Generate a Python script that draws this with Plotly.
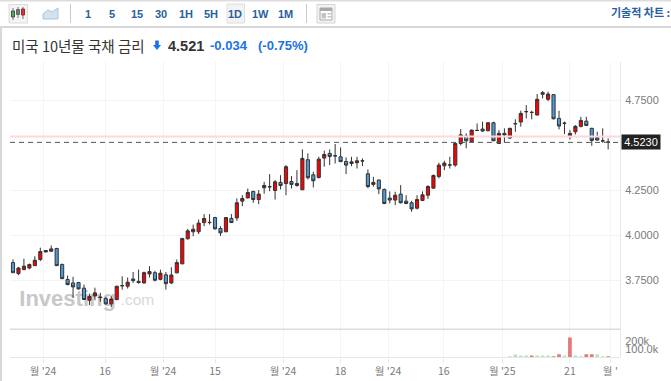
import plotly.graph_objects as go

W, H = 671, 381

opens = [3.848,3.787,3.809,3.818,3.831,3.865,3.915,3.911,3.926,3.837,
3.754,3.735,3.737,3.706,3.639,3.663,3.657,3.648,3.619,3.643,
3.719,3.717,3.757,3.744,3.735,3.785,3.792,3.755,3.780,3.735,
3.791,3.841,3.980,4.019,4.019,4.070,4.070,4.098,4.037,4.019,
4.093,4.096,4.189,4.207,4.243,4.198,4.263,4.268,4.248,4.293,
4.287,4.298,4.287,4.252,4.419,4.335,4.320,4.428,4.454,4.441,
4.435,4.409,4.398,4.402,4.413,4.341,4.282,4.306,4.254,4.206,
4.195,4.228,4.189,4.180,4.150,4.193,4.222,4.261,4.326,4.385,
4.389,4.389,4.509,4.550,4.519,4.582,4.589,4.580,4.624,4.509,
4.565,4.539,4.618,4.628,4.685,4.682,4.667,4.791,4.754,4.780,
4.648,4.622,4.550,4.574,4.604,4.633,4.593,4.541,4.524,4.517]
highs = [3.865,3.824,3.869,3.843,3.883,3.931,3.917,3.943,3.930,3.843,
3.776,3.769,3.741,3.726,3.676,3.709,3.680,3.657,3.661,3.717,
3.772,3.765,3.796,3.809,3.798,3.828,3.802,3.809,3.796,3.822,
3.865,3.985,4.035,4.059,4.087,4.117,4.117,4.102,4.050,4.098,
4.117,4.204,4.222,4.259,4.246,4.250,4.296,4.339,4.306,4.333,
4.389,4.328,4.361,4.476,4.454,4.352,4.435,4.469,4.476,4.506,
4.487,4.432,4.435,4.435,4.426,4.365,4.324,4.309,4.259,4.243,
4.241,4.278,4.222,4.191,4.222,4.243,4.278,4.337,4.402,4.413,
4.435,4.513,4.589,4.565,4.587,4.620,4.630,4.626,4.630,4.583,
4.593,4.596,4.643,4.691,4.722,4.691,4.783,4.800,4.796,4.783,
4.691,4.630,4.583,4.611,4.657,4.657,4.596,4.574,4.593,4.537]
lows = [3.792,3.778,3.806,3.811,3.830,3.856,3.906,3.907,3.830,3.756,
3.722,3.652,3.698,3.641,3.613,3.639,3.631,3.615,3.602,3.639,
3.698,3.704,3.735,3.731,3.731,3.765,3.744,3.750,3.698,3.729,
3.789,3.839,3.976,3.994,4.006,4.050,4.059,4.032,3.996,4.017,
4.068,4.080,4.161,4.204,4.180,4.172,4.230,4.244,4.198,4.254,
4.222,4.259,4.269,4.252,4.309,4.265,4.315,4.380,4.389,4.398,
4.407,4.339,4.383,4.370,4.383,4.261,4.269,4.228,4.172,4.176,
4.167,4.176,4.172,4.130,4.143,4.189,4.202,4.259,4.315,4.361,
4.370,4.380,4.498,4.482,4.517,4.578,4.574,4.576,4.522,4.506,
4.513,4.535,4.574,4.602,4.648,4.643,4.665,4.759,4.744,4.643,
4.587,4.561,4.531,4.559,4.598,4.606,4.496,4.524,4.513,4.476]
closes = [3.792,3.818,3.828,3.837,3.861,3.909,3.907,3.924,3.831,3.759,
3.726,3.713,3.702,3.643,3.661,3.680,3.654,3.619,3.646,3.717,
3.720,3.739,3.748,3.737,3.792,3.798,3.750,3.789,3.731,3.779,
3.848,3.982,4.024,4.033,4.067,4.093,4.071,4.035,4.013,4.098,
4.070,4.180,4.204,4.237,4.198,4.228,4.276,4.269,4.296,4.276,
4.380,4.282,4.276,4.426,4.319,4.302,4.422,4.448,4.437,4.440,
4.408,4.389,4.407,4.413,4.412,4.270,4.293,4.257,4.176,4.195,
4.222,4.180,4.176,4.146,4.198,4.224,4.270,4.331,4.389,4.400,
4.390,4.509,4.557,4.524,4.583,4.581,4.578,4.624,4.524,4.565,
4.556,4.593,4.619,4.676,4.686,4.681,4.754,4.782,4.783,4.646,
4.606,4.621,4.565,4.604,4.637,4.609,4.526,4.528,4.523,4.516]

volume_start = 91
volumes = [15000,36000,25000,25000,25000,25000,25000,25000,15000,40000,
           25000,240000,25000,15000,38000,38000,38000,12000,12000]
volume_up = [0,0,0,0,1,0,0,0,1,1,0,1,0,0,1,1,0,0,1]

x_ticks = [5.5,16.85,27.5,37,49.45,60,68.7,78.9,89.6,102,109.4]
x_labels = ["월 '24","16","월 '24","15","월 '24","18","월 '24","16","월 '25","21","월 '"]
price_ticks = [3.75,4.0,4.25,4.75]
price_labels = ["3.7500","4.0000","4.2500","4.7500"]
vol_ticks = [100000,200000]
vol_labels = ["100.0k","200k"]
last_level = 4.515
last_label = "4.5230"
pink_level = 4.548
intervals = ["1","5","15","30","1H","5H","1D","1W","1M"]

LATIN = "Liberation Sans, Arial, sans-serif"
KR = "Noto Sans CJK KR, Liberation Sans, sans-serif"
BLUE = "#2a5f9e"

def px(x): return x / W
def py(y): return 1 - y / H

idx = list(range(len(opens)))
xr = [-0.55, 111.17]
yr = [3.4778, 4.9611]

fig = go.Figure()

# Watermark sits under the candles
fig.add_trace(go.Scatter(x=[10], y=[3.636], mode="text", text=["<b>Investing</b>"],
    textposition="middle center", textfont=dict(size=22, color="#c8c8c8", family=LATIN),
    hoverinfo="skip", showlegend=False, xaxis="x", yaxis="y"))
fig.add_trace(go.Scatter(x=[22.8], y=[3.632], mode="text", text=[".com"],
    textposition="middle center", textfont=dict(size=15.5, color="#d8d8d8", family=LATIN),
    hoverinfo="skip", showlegend=False, xaxis="x", yaxis="y"))

fig.add_trace(go.Candlestick(x=idx, open=opens, high=highs, low=lows, close=closes,
    xaxis="x", yaxis="y3", whiskerwidth=0, showlegend=False,
    increasing=dict(fillcolor="#ff0000", line=dict(color="#333333", width=1)),
    decreasing=dict(fillcolor="#4f9ad6", line=dict(color="#333333", width=1))))

fig.add_trace(go.Bar(x=[volume_start + i for i in range(len(volumes))], y=volumes,
    marker=dict(color=["#e57878" if u else "#b8e2c4" for u in volume_up], line_width=0),
    width=0.68, xaxis="x2", yaxis="y2", showlegend=False, hoverinfo="skip"))

shapes = []
def rect(x0, y0, x1, y1, fill=None, line=None, lw=1):
    shapes.append(dict(type="rect", xref="paper", yref="paper", x0=px(x0), x1=px(x1),
        y0=py(y1), y1=py(y0), fillcolor=fill or "rgba(0,0,0,0)",
        line=dict(color=line or "rgba(0,0,0,0)", width=lw if line else 0), layer="above"))
def seg(x0, y0, x1, y1, color, lw=1):
    shapes.append(dict(type="line", xref="paper", yref="paper", x0=px(x0), x1=px(x1),
        y0=py(y0), y1=py(y1), line=dict(color=color, width=lw), layer="above"))

# chrome
seg(0, 0.5, W, 0.5, "#dddddd", 2)
seg(0, 27, W, 27, "#b0b0b0", 1)
seg(1, 28, 1, H, "#d8d8d8", 2)
seg(70.5, 4, 70.5, 23, "#c8c8c8", 1)
seg(306.5, 4, 306.5, 23, "#c8c8c8", 1)
rect(227, 4, 244.5, 23, "#f3f3f3", "#dedede")
# candle icon
rect(9, 4.5, 27.5, 23, "#f3f3f3", "#dcdcdc")
seg(13, 8, 13, 20, "#777777", 1)
rect(11.5, 11, 14.5, 17, "#45b649", "#4a4a4a")
seg(18, 7, 18, 18, "#777777", 1)
rect(16.5, 9.5, 19.5, 14.5, "#777777", "#666666")
seg(23, 7, 23, 19, "#777777", 1)
rect(21.5, 9, 24.5, 15, "#e03030", "#8a3030")
# area icon
shapes.append(dict(type="path", xref="paper", yref="paper",
    path="M {} {} L {} {} L {} {} L {} {} L {} {} L {} {} Z".format(
        px(43), py(19), px(43), py(14), px(48), py(10), px(52), py(12), px(58), py(8), px(58), py(19)),
    fillcolor="#d3e2ef", line=dict(color="#a8c4dc", width=1), layer="above"))
# layout icon
rect(317, 4.5, 335, 23, "#f3f3f3", "#d5d5d5")
rect(320, 8, 332, 20, "#ffffff", "#a8a8a8")
rect(320, 8, 332, 11, "#a8a8a8")
rect(321.5, 13, 326, 18.5, "#c4c4c4")
rect(327.5, 13, 331, 14.5, "#c4c4c4")
rect(327.5, 16, 331, 17.5, "#c4c4c4")
# down arrow next to the price
shapes.append(dict(type="path", xref="paper", yref="paper",
    path="M {} {} L {} {} L {} {} L {} {} L {} {} L {} {} L {} {} Z".format(
        px(155.2), py(40.5), px(158.8), py(40.5), px(158.8), py(45), px(161), py(45),
        px(157), py(50), px(153), py(45), px(155.2), py(45)),
    fillcolor="#1a73e8", line=dict(width=0), layer="above"))

# panes
seg(10, 329.3, 620, 329.3, "#dcdcdc", 1.5)
seg(10, 357.5, 620, 357.5, "#e6e6e6", 1)
seg(620.5, 62, 620.5, 357.5, "#e6e6e6", 1)

# level lines, from the price scale
shapes.append(dict(type="line", xref="paper", yref="y", x0=px(10), x1=px(620),
    y0=pink_level, y1=pink_level, line=dict(color="#ffd8d8", width=2), layer="above"))
shapes.append(dict(type="line", xref="paper", yref="y", x0=px(10), x1=px(620),
    y0=last_level, y1=last_level, line=dict(color="#555555", width=1, dash="5px,4px"), layer="above"))

annotations = []
def text(x, y, s, size, color, anchor="left", family=LATIN, **kw):
    annotations.append(dict(xref="paper", yref="paper", x=px(x), y=py(y), text=s, showarrow=False,
        xanchor=anchor, yanchor="middle", font=dict(size=size, color=color, family=family), **kw))

for label, x in zip(intervals, [87.5,112,137,161,186,211,235.5,260,285]):
    text(x, 13.5, "<b>" + label + "</b>", 11, BLUE, "center")
text(609, 12.5, "<b>기술적 차트 :</b>", 11, BLUE, "left", KR)
text(10, 45.5, "미국 10년물 국채 금리", 14.5, "#333333", "left", KR)
text(165.5, 45.5, "<b>4.521</b>", 14.5, "#333333")
text(208, 45.5, "<b>-0.034</b>", 13, "#1a73e8")
text(255.5, 45.5, "<b>(-0.75%)</b>", 13, "#1a73e8")

annotations.append(dict(xref="paper", yref="y", x=px(620.5), y=last_level, text=last_label,
    showarrow=False, xanchor="left", yanchor="middle", width=38, height=14, align="center",
    bgcolor="#222222", borderpad=0,
    font=dict(size=11, color="#ffffff", family=LATIN)))

tick_font = dict(size=11, color="#7a7a7a", family=LATIN)

fig.update_layout(
    width=W, height=H, margin=dict(l=0, r=0, t=0, b=0), autosize=False,
    paper_bgcolor="white", plot_bgcolor="white", showlegend=False,
    shapes=shapes, annotations=annotations, boxgap=0.18,
    xaxis=dict(domain=[px(10), px(620)], range=xr, anchor="y", tickvals=x_ticks, showticklabels=False,
        ticks="", showgrid=True, gridcolor="#f4f4f4", gridwidth=1, zeroline=False,
        rangeslider=dict(visible=False), showline=False),
    yaxis=dict(domain=[py(329.3), py(62)], range=yr, anchor="x", side="right", tickvals=price_ticks,
        ticktext=price_labels, tickfont=tick_font, ticks="outside", ticklen=2, tickcolor="rgba(0,0,0,0)",
        showgrid=True, gridcolor="#f4f4f4", zeroline=False, showline=False),
    yaxis3=dict(overlaying="y", range=yr, side="right", showticklabels=False, showgrid=False,
        zeroline=False, ticks=""),
    xaxis2=dict(domain=[px(10), px(620)], range=xr, anchor="y2", tickvals=x_ticks, ticktext=x_labels,
        tickfont=dict(size=10.5, color="#7a7a7a", family=KR), ticks="outside", ticklen=4, tickcolor="#e6e6e6",
        showgrid=True, gridcolor="#f4f4f4", zeroline=False, showline=False, tickangle=0),
    yaxis2=dict(domain=[py(357.5), py(329.3)], range=[0, 340000], anchor="x2", side="right",
        tickvals=vol_ticks, ticktext=vol_labels, tickfont=tick_font, ticks="outside", ticklen=2,
        tickcolor="rgba(0,0,0,0)", showgrid=False, zeroline=False, showline=False),
)

fig.write_html("out.html", config=dict(displayModeBar=False),
    post_script="document.body.style.margin='0';document.body.style.overflow='hidden';")
